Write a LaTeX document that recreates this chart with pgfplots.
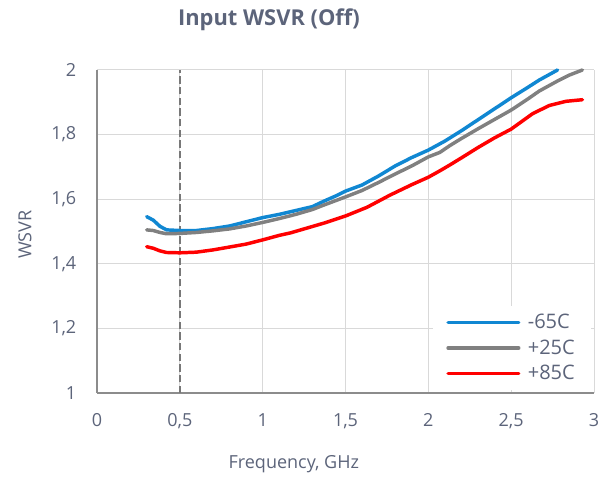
\documentclass[border=0pt]{standalone}
\usepackage{fontspec}
\setmainfont{Open Sans}
\usepackage{pgfplots}
\pgfplotsset{compat=1.18}
\definecolor{txt}{RGB}{92,100,122}
\definecolor{gridc}{RGB}{217,217,217}
\definecolor{axc}{RGB}{140,140,140}
\definecolor{dashc}{RGB}{120,120,120}
\definecolor{cblue}{RGB}{16,135,210}
\definecolor{cgray}{RGB}{128,128,128}
\definecolor{cred}{RGB}{255,0,0}
\begin{document}
\begin{tikzpicture}
\begin{axis}[
  at={(0,0)}, anchor=south west,
  scale only axis, width=372.75pt, height=242.25pt,
  xmin=0, xmax=3, ymin=1, ymax=2,
  xtick={0,0.5,1,1.5,2,2.5,3},
  ytick={1,1.2,1.4,1.6,1.8,2},
  /pgf/number format/use comma,
  /pgf/number format/assume math mode=true,
  grid=major, grid style={draw=gridc, line width=0.75pt},
  axis x line*=bottom, axis y line*=left,
  axis line style={draw=axc, line width=0.9pt, -},
  major tick length=0pt,
  ticklabel style={font=\fontsize{13.5}{16}\selectfont, text=txt},
  xticklabel style={yshift=-12pt},
  yticklabel style={xshift=-12pt},
  xlabel={Frequency, GHz}, ylabel={WSVR},
  label style={font=\fontsize{13.5}{16}\selectfont, text=txt},
  x label style={at={(axis description cs:0.396,-0.22)}, anchor=center},
  y label style={at={(axis description cs:-0.145,0.49)}, anchor=center},
  title={Input WSVR (Off)},
  title style={font=\fontsize{16.4}{19}\selectfont\bfseries, text=txt, at={(axis description cs:0.346,1.130)}, anchor=center},
  legend style={at={(rel axis cs:0.994,0.010)}, anchor=south east, draw=none, fill=white,
    font=\fontsize{15}{17}\selectfont, text=txt, inner xsep=10pt, inner ysep=4pt,
    row sep=2.6pt, /tikz/every odd column/.append style={column sep=3.5pt}},
  legend cell align=left,
  legend image code/.code={\draw[#1] (0pt,0pt) -- (53pt,0pt);},
  every axis plot/.append style={line width=2.6pt, line join=round, line cap=round},
  clip=false,
]
\addplot[draw=dashc, line width=1.1pt, dash pattern=on 5.5pt off 2.5pt, line cap=butt, forget plot] coordinates {(0.5,1) (0.5,2)};
\addplot[cblue] coordinates {
(0.30,1.546) (0.34,1.535) (0.38,1.516) (0.42,1.505) (0.50,1.503) (0.60,1.503)
(0.70,1.509) (0.80,1.517) (0.90,1.530) (1.00,1.543) (1.10,1.553) (1.20,1.565)
(1.30,1.577) (1.37,1.594) (1.45,1.612) (1.50,1.625) (1.60,1.644) (1.70,1.672)
(1.80,1.703) (1.90,1.729) (2.00,1.752) (2.10,1.780) (2.20,1.812) (2.30,1.846)
(2.40,1.880) (2.50,1.914) (2.60,1.946) (2.67,1.969) (2.78,2.000)};
\addlegendentry{-65C}
\addplot[cgray] coordinates {
(0.30,1.505) (0.34,1.503) (0.38,1.497) (0.42,1.493) (0.50,1.494) (0.60,1.497)
(0.70,1.502) (0.80,1.508) (0.90,1.517) (1.00,1.528) (1.10,1.540) (1.20,1.553)
(1.30,1.568) (1.37,1.582) (1.50,1.607) (1.60,1.627) (1.70,1.652) (1.80,1.678)
(1.90,1.703) (2.00,1.731) (2.07,1.745) (2.13,1.766) (2.20,1.788) (2.30,1.818)
(2.40,1.847) (2.50,1.876) (2.60,1.910) (2.67,1.935) (2.78,1.966) (2.85,1.984) (2.93,2.000)};
\addlegendentry{+25C}
\addplot[cred] coordinates {
(0.30,1.453) (0.34,1.448) (0.38,1.440) (0.42,1.435) (0.50,1.434) (0.60,1.436)
(0.70,1.443) (0.79,1.451) (0.90,1.461) (1.00,1.474) (1.10,1.488) (1.17,1.496)
(1.23,1.505) (1.37,1.526) (1.50,1.548) (1.63,1.575) (1.77,1.613) (1.90,1.645)
(2.00,1.668) (2.07,1.688) (2.13,1.706) (2.20,1.728) (2.30,1.760) (2.40,1.790)
(2.50,1.817) (2.63,1.865) (2.73,1.890) (2.83,1.903) (2.93,1.908)};
\addlegendentry{+85C}
\end{axis}
\pgfresetboundingbox
\path (-72.75pt,-63.75pt) rectangle ++(460.5pt,358.5pt);
\end{tikzpicture}
\end{document}
